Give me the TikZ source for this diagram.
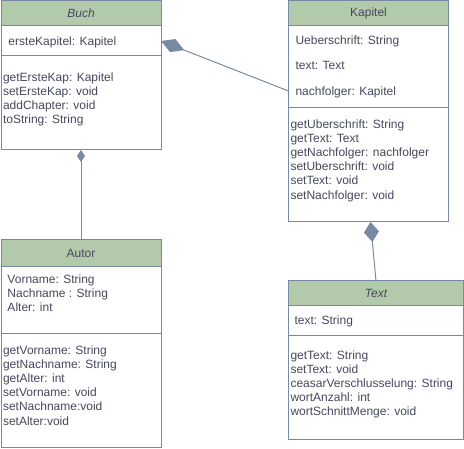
\documentclass[tikz,border=0pt]{standalone}
\usepackage{fontspec}
\setmainfont{Liberation Sans}
\usepackage{xcolor}
\usetikzlibrary{arrows.meta, positioning, calc}

\definecolor{umlfill}{HTML}{B2C9AB}
\definecolor{umlline}{HTML}{788AA3}
\definecolor{umltext}{HTML}{46495D}

\begin{document}
\begin{tikzpicture}[
  x=1pt, y=-1pt,
  font=\fontsize{12}{14}\selectfont,
  line width=1pt,
  head/.style={rectangle, draw=umlline, fill=umlfill, text=umltext, minimum width=160pt, inner sep=0pt, outer sep=0pt, anchor=north west},
  part/.style={rectangle, draw=umlline, fill=white, minimum width=160pt, inner sep=0pt, outer sep=0pt},
  entry/.style={inner sep=0pt, anchor=north west, align=left, text=umltext, font=\fontsize{12}{14.2}\selectfont},
  comp/.style={draw=umlline}
]
\useasboundingbox (0,0) rectangle (464,449);

% Buch
\node (buch) [head, minimum height=25pt, font=\fontsize{12}{14}\selectfont\itshape] at (1,1) {Buch};
\node (buchA) [part, minimum height=30pt, below=0pt of buch] {};
\node (buchM) [part, minimum height=94pt, below=0pt of buchA] {};
\node (buchAtxt) [entry] at ($(buchA.north west)+(7,10)$) {ersteKapitel: Kapitel};
\node (buchMtxt) [entry] at ($(buchM.north west)+(1.5,16)$) {getErsteKap: Kapitel\\setErsteKap: void\\addChapter: void\\toString: String};

% Kapitel
\node (kapitel) [head, minimum height=25pt] at (288.5,1) {Kapitel};
\node (kapA) [part, minimum height=82pt, below=0pt of kapitel] {};
\node (kapM) [part, minimum height=114pt, below=0pt of kapA] {};
\node (kapAtxt) [entry] at ($(kapA.north west)+(6.5,9)$) {Ueberschrift: String\\[11.5pt]text: Text\\[11.5pt]nachfolger: Kapitel};
\node (kapMtxt) [entry] at ($(kapM.north west)+(1.5,11)$) {getUberschrift: String\\getText: Text\\getNachfolger: nachfolger\\setUberschrift: void\\setText: void\\setNachfolger: void};

% Autor
\node (autor) [head, minimum height=27pt] at (1,240) {Autor};
\node (autorA) [part, minimum height=67pt, below=0pt of autor] {};
\node (autorM) [part, minimum height=114pt, below=0pt of autorA] {};
\node (autorAtxt) [entry] at ($(autorA.north west)+(6,7)$) {Vorname: String\\Nachname : String\\Alter: int};
\node (autorMtxt) [entry] at ($(autorM.north west)+(1.5,11)$) {getVorname: String\\getNachname: String\\getAlter: int\\setVorname: void\\setNachname:void\\setAlter:void};

% Text
\node (textcls) [head, minimum width=175pt, minimum height=25pt, font=\fontsize{12}{14}\selectfont\itshape] at (288.5,281) {Text};
\node (textA) [part, minimum width=175pt, minimum height=30pt, below=0pt of textcls] {};
\node (textM) [part, minimum width=175pt, minimum height=104pt, below=0pt of textA] {};
\node (textAtxt) [entry] at ($(textA.north west)+(5.5,9)$) {text: String};
\node (textMtxt) [entry] at ($(textM.north west)+(1.5,14)$) {getText: String\\setText: void\\ceasarVerschlusselung: String\\wortAnzahl: int\\wortSchnittMenge: void};

% Kompositionen
\draw [comp, {Diamond[length=25pt, width=14pt]}-] (buchA.east) -- ($(kapA.west)+(0,24)$);
\draw [comp, {Diamond[length=12pt, width=8pt]}-] (buchM.south) -- (autor.north);
\draw [comp, {Diamond[length=20pt, width=15pt]}-] ($(kapM.south)+(2,0)$) -- (textcls.north);
\end{tikzpicture}
\end{document}
